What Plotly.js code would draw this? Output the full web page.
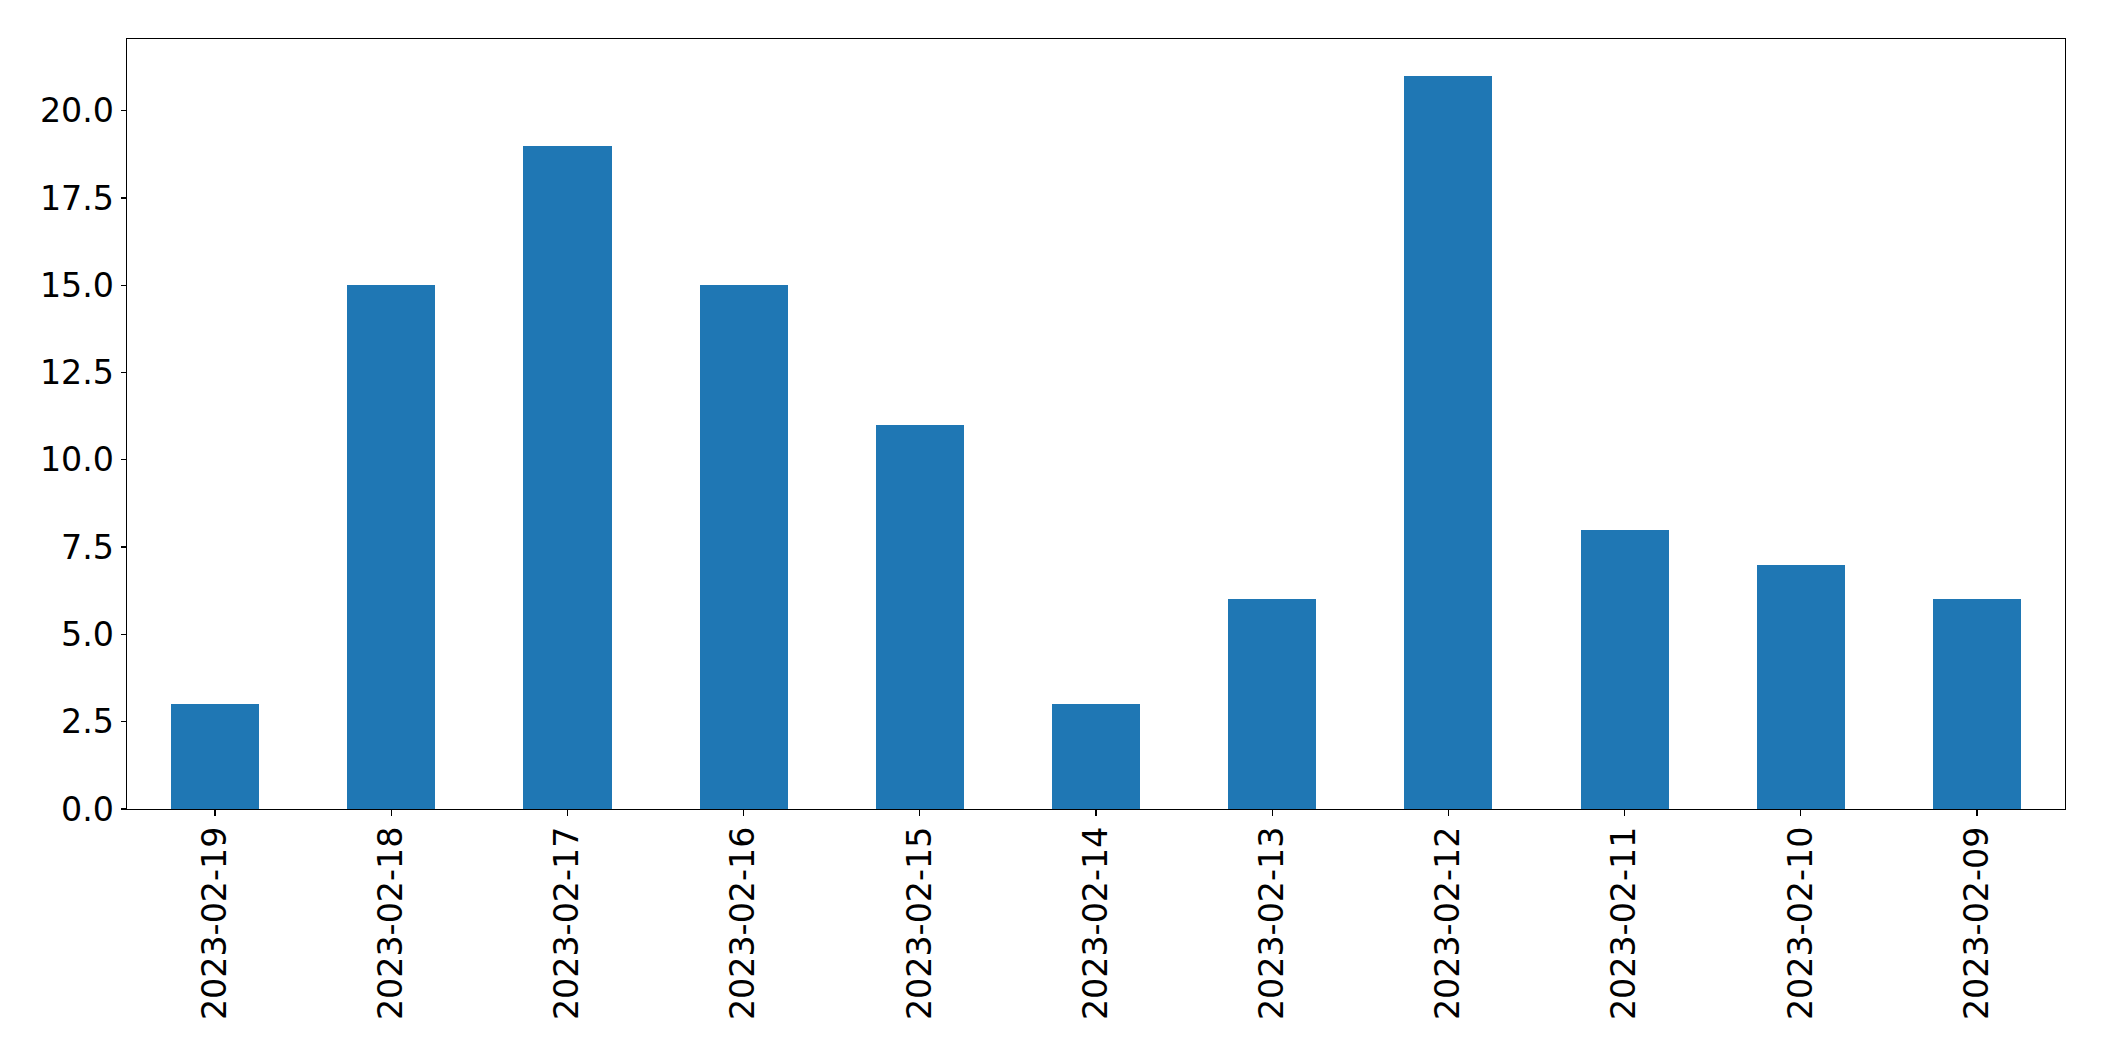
<!DOCTYPE html>
<html>
<head>
<meta charset="utf-8">
<script src="https://cdn.plot.ly/plotly-3.0.1.min.js"></script>
<style>html,body{margin:0;padding:0;background:#fff;}#chart{width:2104px;height:1061px;}</style>
</head>
<body>
<div id="chart"></div>
<script>
const categories = ["2023-02-19","2023-02-18","2023-02-17","2023-02-16","2023-02-15","2023-02-14","2023-02-13","2023-02-12","2023-02-11","2023-02-10","2023-02-09"];
const values = [3, 15, 19, 15, 11, 3, 6, 21, 8, 7, 6];
const yTickVals = [0, 2.5, 5, 7.5, 10, 12.5, 15, 17.5, 20];
const yTickText = ["0.0","2.5","5.0","7.5","10.0","12.5","15.0","17.5","20.0"];

const trace = {
  type: 'bar',
  x: categories.map((c, i) => i),
  y: values,
  width: 0.5,
  marker: {color: '#1f77b4', line: {width: 0}},
  hoverinfo: 'x+y'
};

const font = {family: 'DejaVu Sans, sans-serif', size: 33.3, color: '#000'};
const layout = {
  width: 2104, height: 1061,
  margin: {l: 127.3, r: 38.7, t: 39.3, b: 252},
  paper_bgcolor: '#fff', plot_bgcolor: '#fff',
  showlegend: false,
  bargap: 0,
  font: font,
  xaxis: {
    range: [-0.5, 10.5],
    tickmode: 'array',
    tickvals: categories.map((c, i) => i),
    ticktext: categories,
    tickangle: -90,
    ticks: 'outside', ticklen: 6, tickwidth: 1.3, tickcolor: '#000',
    showline: true, linecolor: '#000', linewidth: 1.3, mirror: true,
    showgrid: false, zeroline: false,
    tickfont: font,
    ticklabelstandoff: -3
  },
  yaxis: {
    range: [0, 22.05],
    tickmode: 'array',
    tickvals: yTickVals,
    ticktext: yTickText,
    ticks: 'outside', ticklen: 5, tickwidth: 1.3, tickcolor: '#000',
    showline: true, linecolor: '#000', linewidth: 1.3, mirror: true,
    showgrid: false, zeroline: false,
    tickfont: font
  }
};
Plotly.newPlot('chart', [trace], layout, {displayModeBar: false, staticPlot: true});
</script>
</body>
</html>
